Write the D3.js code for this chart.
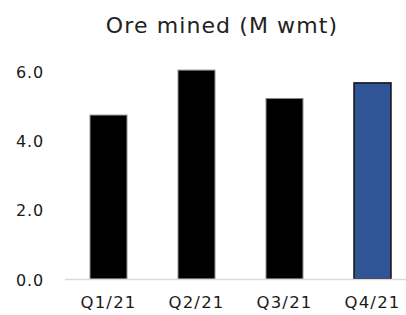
<!DOCTYPE html>
<html>
<head>
<meta charset="utf-8">
<script src="https://cdn.jsdelivr.net/npm/d3@7"></script>
<style>
  body { margin: 0; background: #fff; }
  svg { display: block; }
  text { font-family: "DejaVu Sans", sans-serif; fill: #1a1a1a; }
</style>
</head>
<body>
<div id="chart"></div>
<script>
var quarters = ["Q1/21", "Q2/21", "Q3/21", "Q4/21"];
var oreMined = [4.74, 6.04, 5.22, 5.67];
var yTicks = [0, 2, 4, 6];
var chartTitle = "Ore mined (M wmt)";

var W = 406, H = 315;

var svg = d3.select("#chart").append("svg")
    .attr("width", W)
    .attr("height", H);

var x = d3.scaleBand()
    .domain(quarters)
    .range([64.5, 416.5])
    .paddingInner(0.58)
    .paddingOuter(0.29);

var y = d3.scaleLinear()
    .domain([0, 6])
    .range([279, 71.5]);

// title
svg.append("text")
    .attr("x", 222)
    .attr("y", 33)
    .attr("text-anchor", "middle")
    .style("font-size", "22px")
    .style("letter-spacing", "1.1px")
    .style("fill", "#222")
    .text(chartTitle);

// bars
svg.append("g").selectAll("rect")
    .data(oreMined)
    .enter().append("rect")
    .attr("x", function (d, i) { return x(quarters[i]); })
    .attr("y", function (d) { return y(d); })
    .attr("width", x.bandwidth())
    .attr("height", function (d) { return y(0) - y(d); })
    .attr("fill", function (d, i) { return i === 3 ? "#2f5597" : "#000"; })
    .attr("stroke", function (d, i) { return i === 3 ? "#111" : "#8a8a8a"; })
    .attr("stroke-width", function (d, i) { return i === 3 ? 1.5 : 1; });

// baseline
svg.append("line")
    .attr("x1", 65).attr("x2", W)
    .attr("y1", y(0) + 0.5).attr("y2", y(0) + 0.5)
    .attr("stroke", "#d9d9d9")
    .attr("stroke-width", 1.5);

// y axis labels
var yAxis = d3.axisLeft(y)
    .tickValues(yTicks)
    .tickFormat(d3.format(".1f"))
    .tickSize(0)
    .tickPadding(0);
var yg = svg.append("g")
    .attr("transform", "translate(45,1)")
    .call(yAxis);
yg.select(".domain").remove();
yg.selectAll("text").style("font-size", "16px").style("letter-spacing", "0.8px")
    .attr("fill", "#1a1a1a")
    .attr("text-anchor", "middle").attr("x", -15);

// x axis labels
var xAxis = d3.axisBottom(x).tickSize(0).tickPadding(0);
var xg = svg.append("g")
    .attr("transform", "translate(0,296)")
    .call(xAxis);
xg.select(".domain").remove();
xg.selectAll("text").style("font-size", "16.5px").style("letter-spacing", "1.2px")
    .attr("fill", "#1a1a1a");
</script>
</body>
</html>
